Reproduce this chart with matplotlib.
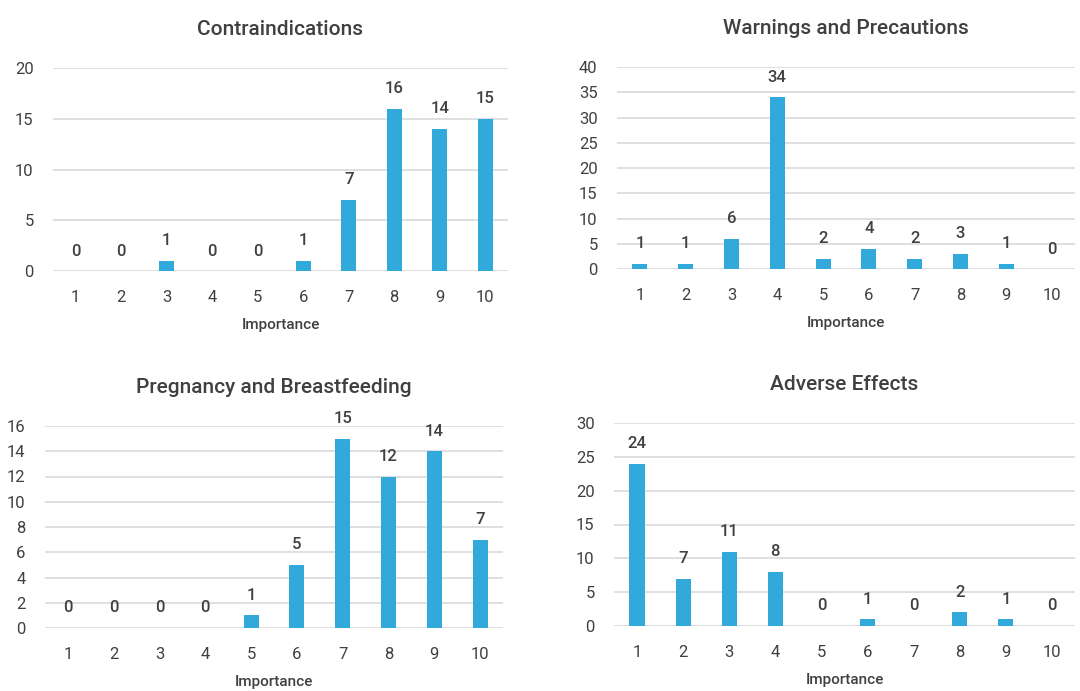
import matplotlib.pyplot as plt
import numpy as np

plt.rcParams['font.family'] = ['Roboto', 'DejaVu Sans']

importance = list(range(1, 11))
contraindications = [0, 0, 1, 0, 0, 1, 7, 16, 14, 15]
warnings_precautions = [1, 1, 6, 34, 2, 4, 2, 3, 1, 0]
pregnancy_breastfeeding = [0, 0, 0, 0, 1, 5, 15, 12, 14, 7]
adverse_effects = [24, 7, 11, 8, 0, 1, 0, 2, 1, 0]

BAR = '#31a9db'
TXT = '#404040'
GRID = '#d9d9d9'

W, H = 1080, 691
fig = plt.figure(figsize=(W / 100, H / 100), dpi=100)


def panel(box, title, values, ymax, ystep):
    # box given in pixels: left, right, y of zero line, y of top line
    l, r, y0, y1 = box
    ax = fig.add_axes([l / W, (H - y0) / H, (r - l) / W, (y0 - y1) / H])
    ax.bar(importance, values, width=0.33, color=BAR, zorder=3)
    for x, v in zip(importance, values):
        ax.annotate(str(v), (x, v), xytext=(0, 9), textcoords='offset points',
                    ha='center', va='bottom', fontsize=12, fontweight='medium',
                    color=TXT)
    ax.set_xlim(0.5, 10.5)
    ax.set_ylim(0, ymax)
    ax.set_yticks(np.arange(0, ymax + 1, ystep))
    ax.set_xticks(importance)
    ax.grid(axis='y', color=GRID, linewidth=1.2, zorder=0)
    for s in ax.spines.values():
        s.set_visible(False)
    ax.tick_params(length=0, labelsize=12, labelcolor=TXT)
    ax.tick_params(axis='x', pad=14)
    ax.tick_params(axis='y', pad=14)
    ax.set_title(title, fontsize=15, fontweight='medium', color=TXT, pad=24)
    ax.set_xlabel('Importance', fontsize=11, fontweight='medium', color=TXT,
                  labelpad=9)
    return ax


panel((53, 508, 271, 68), 'Contraindications', contraindications, 20, 5)
panel((617, 1075, 269, 67), 'Warnings and Precautions', warnings_precautions, 40, 5)
panel((45, 503, 628, 426), 'Pregnancy and Breastfeeding', pregnancy_breastfeeding, 16, 2)
panel((614, 1075, 626, 423), 'Adverse Effects', adverse_effects, 30, 5)

fig.savefig('out.png', dpi=100, facecolor='white')
